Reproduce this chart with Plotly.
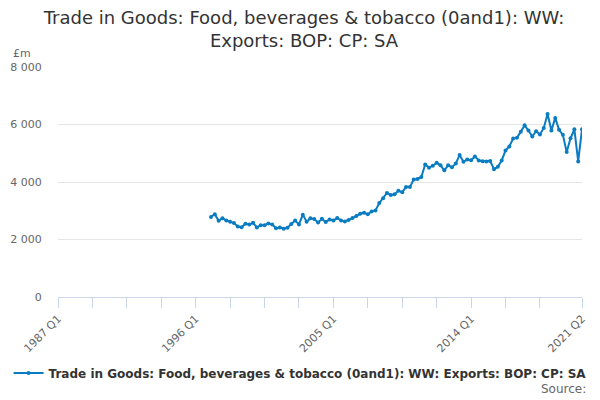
import plotly.graph_objects as go

# --- data: quarterly values, 1997 Q1 to 2021 Q2 (£m) ---
first_year = 1997
exports = [
    2780, 2880, 2650, 2740,   # 1997
    2660, 2620, 2570, 2450,   # 1998
    2430, 2550, 2520, 2580,   # 1999
    2420, 2500, 2500, 2560,   # 2000
    2525, 2390, 2420, 2375,   # 2001
    2410, 2540, 2660, 2525,   # 2002
    2865, 2620, 2735, 2710,   # 2003
    2595, 2720, 2605, 2700,   # 2004
    2665, 2745, 2665, 2630,   # 2005
    2675, 2745, 2815, 2895,   # 2006
    2930, 2880, 2975, 3010,   # 2007
    3270, 3435, 3620, 3550,   # 2008
    3570, 3700, 3645, 3825,   # 2009
    3825, 4085, 4105, 4175,   # 2010
    4610, 4500, 4565, 4670,   # 2011
    4580, 4405, 4580, 4510,   # 2012
    4645, 4935, 4705, 4785,   # 2013
    4760, 4890, 4750, 4725,   # 2014
    4715, 4730, 4445, 4530,   # 2015
    4750, 5095, 5235, 5510,   # 2016
    5535, 5745, 5970, 5790,   # 2017
    5580, 5765, 5650, 5880,   # 2018
    6365, 5790, 6230, 5815,   # 2019
    5640, 5040, 5520, 5835,   # 2020
    4715, 5835,               # 2021
]

tick_labels = ["1987 Q1", "", "", "", "1996 Q1", "", "", "", "2005 Q1",
               "", "", "", "2014 Q1", "", "", "2021 Q2"]

series_name = "Trade in Goods: Food, beverages & tobacco (0and1): WW: Exports: BOP: CP: SA"
title_text = ("Trade in Goods: Food, beverages & tobacco (0and1): WW:<br>"
              "Exports: BOP: CP: SA")


def to_num(label):
    year, q = label.split(" Q")
    return int(year) + (int(q) - 1) / 4


# x positions as fractional years
x_vals = [first_year + i / 4 for i in range(len(exports))]
labels = [f"{int(x)} Q{int(round((x - int(x)) * 4)) + 1}" for x in x_vals]

# tick positions every 9 quarters from 1987 Q1, last at 2021 Q2
tick_pos = [1987 + 9 * i / 4 for i in range(15)] + [to_num("2021 Q2")]

blue = "#0a7cc1"
font = "DejaVu Sans"

fig = go.Figure()
fig.add_trace(go.Scatter(
    x=x_vals, y=exports, mode="lines+markers", name=series_name,
    text=labels, hovertemplate="%{text}: %{y:,}<extra></extra>",
    line=dict(color=blue, width=2),
    marker=dict(color=blue, size=4),
))

# page body has an 8px margin, so the figure is sized to fit inside it
fig.update_layout(
    width=592, height=392,
    margin=dict(l=50, r=18, t=59, b=103),
    paper_bgcolor="white", plot_bgcolor="white",
    separators=". ",
    font=dict(family=font, color="#666666", size=11),
    title=dict(text=title_text, x=0.5, xanchor="center", y=0.96, yanchor="top",
               font=dict(family=font, size=18, color="#333333")),
    showlegend=True,
    legend=dict(orientation="h", x=0.462, xanchor="center", y=-0.33, yanchor="middle",
                font=dict(family=font, size=12, color="#333333", weight="bold"),
                itemwidth=30),
    xaxis=dict(
        range=[1987, to_num("2021 Q2")], automargin=False,
        tickmode="array", tickvals=tick_pos, ticktext=tick_labels,
        tickangle=-45, ticks="outside", ticklen=10, tickcolor="#ccd6eb",
        showline=True, linecolor="#ccd6eb", showgrid=False, zeroline=False,
        tickfont=dict(size=11, color="#666666"),
    ),
    yaxis=dict(
        range=[0, 8000], tickvals=[0, 2000, 4000, 6000, 8000], tickformat=",d",
        automargin=False,
        showgrid=True, gridcolor="#e6e6e6", zeroline=False,
        ticks="outside", ticklen=13, tickcolor="rgba(0,0,0,0)",
        tickfont=dict(size=11, color="#666666"),
    ),
    annotations=[
        dict(text="£m", xref="paper", yref="paper", x=-0.09, y=1.06,
             xanchor="left", yanchor="middle", showarrow=False,
             font=dict(family=font, size=11, color="#666666")),
        dict(text="Source:", xref="paper", yref="paper", x=1.012, y=-0.4,
             xanchor="right", yanchor="middle", showarrow=False,
             font=dict(family=font, size=12, color="#666666")),
    ],
)

fig.write_html("out.html")
